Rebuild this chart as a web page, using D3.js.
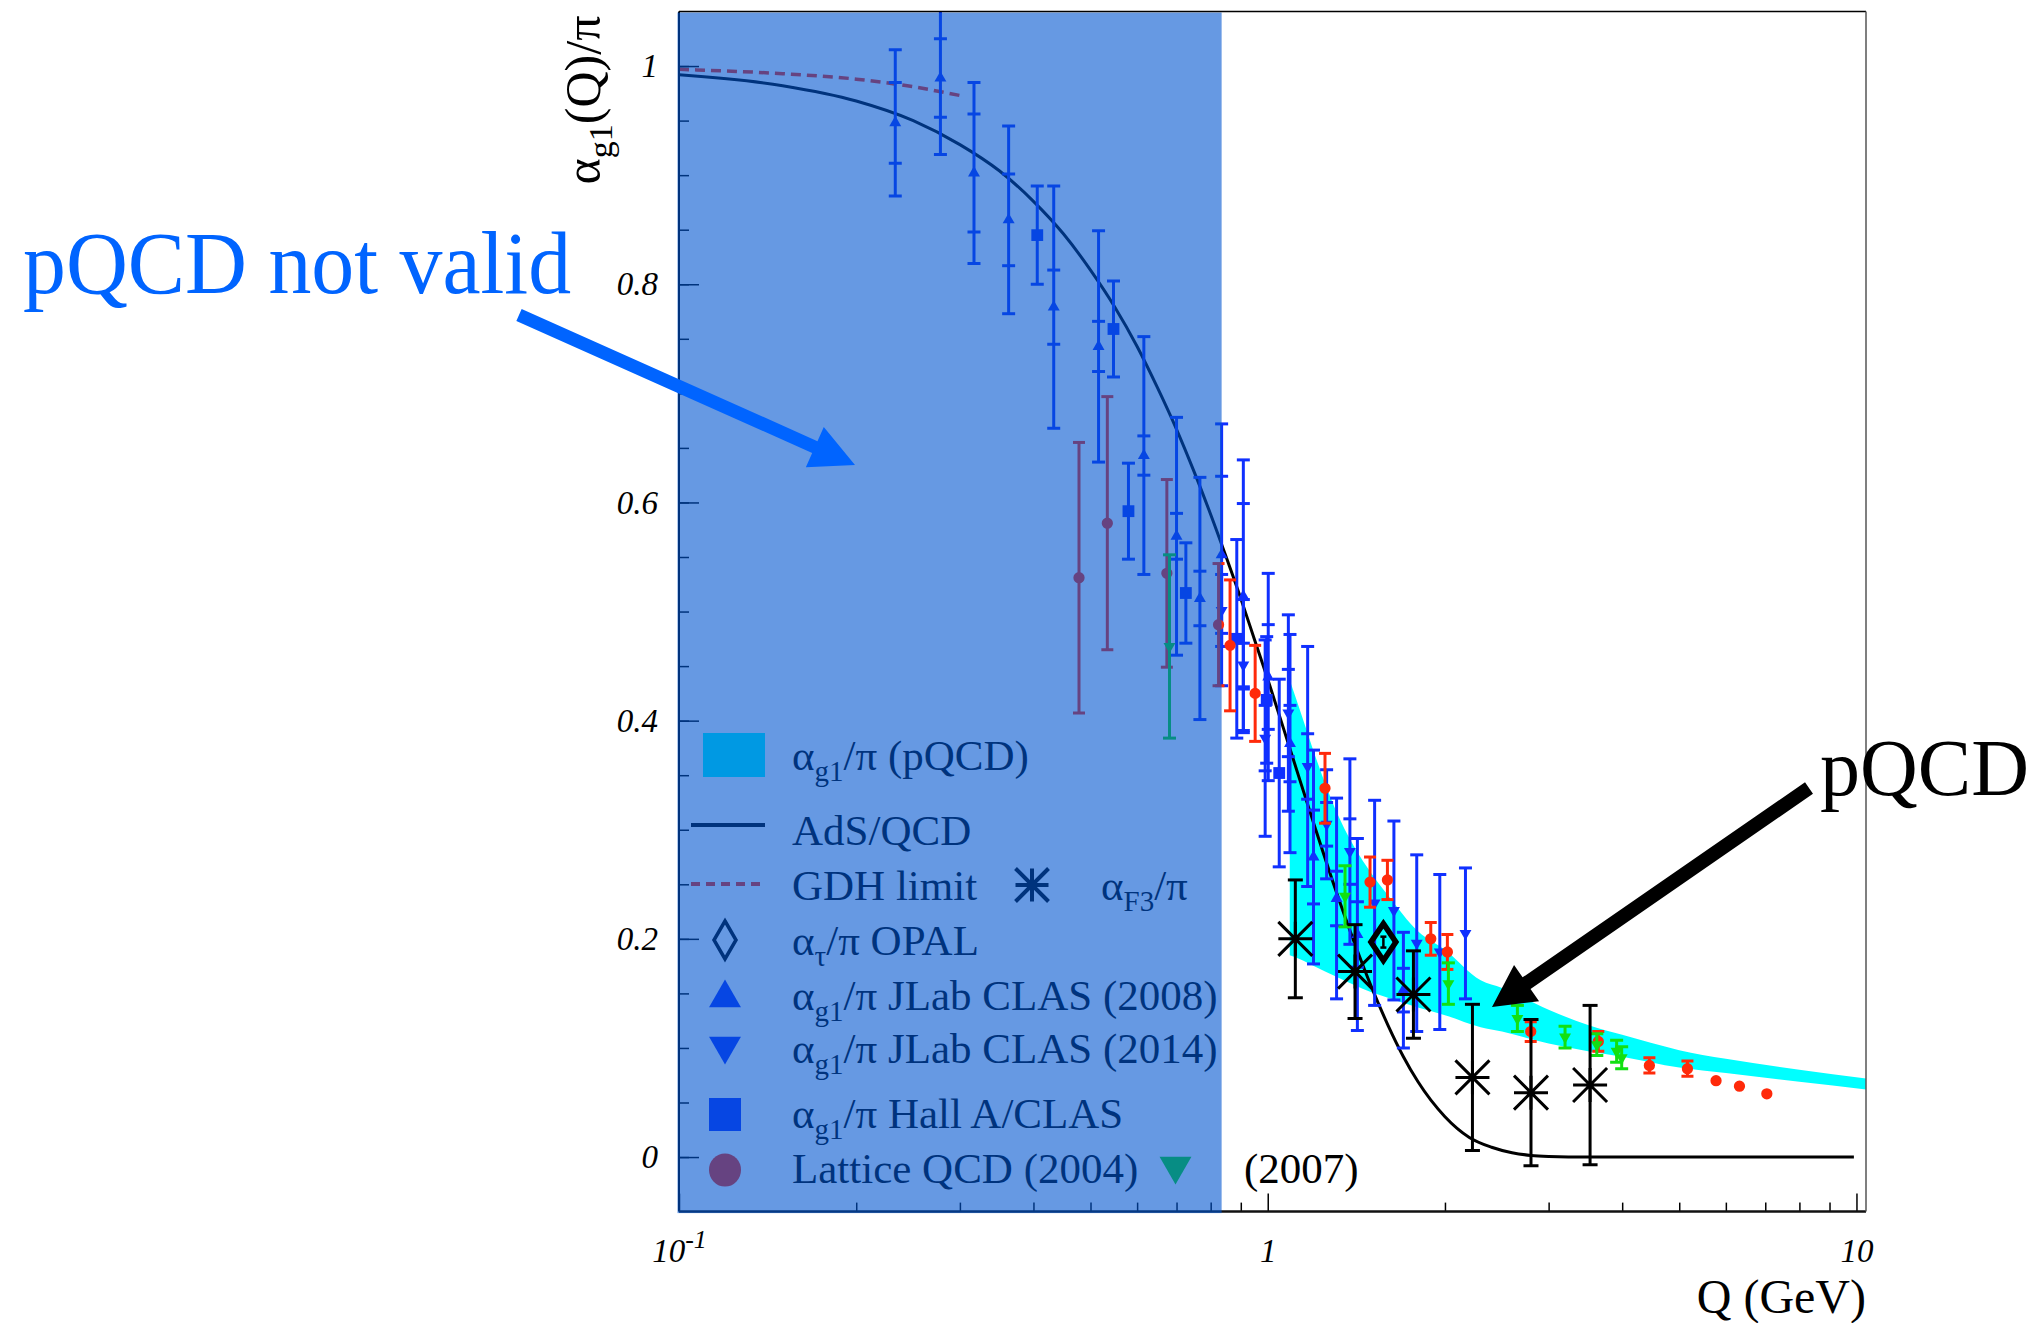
<!DOCTYPE html>
<html>
<head>
<meta charset="utf-8">
<script src="https://cdn.jsdelivr.net/npm/d3@7"></script>
<style>
  html, body { margin: 0; padding: 0; background: #ffffff; }
  svg { display: block; }
  text { font-family: "Liberation Serif", "Times New Roman", serif; }
</style>
</head>
<body>
<svg id="chart" width="2031" height="1323"></svg>
<script>
// ---------------------------------------------------------------
// Effective strong coupling alpha_g1(Q)/pi versus Q (GeV)
// ---------------------------------------------------------------

// JLab CLAS (2008): [Q, value, stat. error, total error]
const clas2008 = [
  [0.233, 0.948, 0.037, 0.067],
  [0.278, 0.989, 0.036, 0.070],
  [0.317, 0.902, 0.054, 0.083],
  [0.363, 0.859, 0.042, 0.086],
  [0.433, 0.779, 0.034, 0.111],
  [0.516, 0.743, 0.023, 0.106],
  [0.616, 0.643, 0.018, 0.109],
  [0.700, 0.569, 0.021, 0.109],
  [0.767, 0.512, 0.025, 0.111],
  [0.835, 0.552, 0.072, 0.120],
  [0.909, 0.514, 0.085, 0.125],
  [1.002, 0.440, 0.048, 0.095],
  [1.091, 0.379, 0.035, 0.100],
  [1.196, 0.275, 0.043, 0.098],
  [1.309, 0.237, 0.025, 0.092],
  [1.420, 0.204, 0.030, 0.088],
  [1.700, 0.153, 0.020, 0.053]
];

// JLab CLAS (2014): [Q, value, stat. error, total error]
const clas2014 = [
  [0.835, 0.501, 0.000, 0.033],
  [0.909, 0.451, 0.020, 0.060],
  [0.990, 0.384, 0.030, 0.090],
  [1.084, 0.407, 0.040, 0.090],
  [1.169, 0.358, 0.030, 0.110],
  [1.259, 0.305, 0.020, 0.050],
  [1.379, 0.280, 0.030, 0.085],
  [1.519, 0.233, 0.000, 0.094],
  [1.638, 0.226, 0.000, 0.082],
  [1.791, 0.196, 0.000, 0.081],
  [1.960, 0.188, 0.000, 0.071],
  [2.167, 0.205, 0.000, 0.060]
];

// Hall A / CLAS: [Q, value, error]
const hallA = [
  [0.406, 0.845, 0.045],
  [0.547, 0.759, 0.044],
  [0.580, 0.592, 0.044],
  [0.726, 0.517, 0.046],
  [0.886, 0.475, 0.091],
  [0.996, 0.419, 0.058],
  [1.046, 0.352, 0.086]
];

// Lattice QCD (2004): [Q, value, error]
const lattice2004 = [
  [0.478, 0.531, 0.124],
  [0.534, 0.581, 0.116],
  [0.674, 0.535, 0.086],
  [0.825, 0.488, 0.056],
  [0.863, 0.469, 0.060],
  [0.952, 0.425, 0.044],
  [1.251, 0.338, 0.032],
  [1.492, 0.252, 0.023],
  [1.597, 0.254, 0.018],
  [1.892, 0.200, 0.015],
  [2.019, 0.188, 0.016],
  [2.797, 0.115, 0.009],
  [3.643, 0.106, 0.009],
  [4.449, 0.084, 0.007],
  [5.163, 0.081, 0.007],
  [5.774, 0.070, 0.000],
  [6.328, 0.065, 0.000],
  [7.043, 0.058, 0.000]
];

// Lattice QCD (2007): [Q, value, error]
const lattice2007 = [
  [0.681, 0.468, 0.084],
  [1.353, 0.239, 0.028],
  [2.027, 0.159, 0.019],
  [2.655, 0.127, 0.012],
  [3.199, 0.110, 0.010],
  [3.622, 0.103, 0.010],
  [3.914, 0.097, 0.010],
  [3.992, 0.091, 0.010]
];

// alpha_F3/pi: [Q, value, error]
const alphaF3 = [
  [1.114, 0.200, 0.054],
  [1.407, 0.170, 0.043],
  [1.768, 0.149, 0.040],
  [2.227, 0.073, 0.067],
  [2.800, 0.059, 0.067],
  [3.528, 0.066, 0.073]
];

// alpha_tau/pi OPAL: [Q, value, error]
const opal = [[1.572, 0.197, 0.005]];

// pQCD band: upper and lower edges
const pqcdQ  = [1.09, 1.15, 1.2, 1.3, 1.4, 1.5, 1.6, 1.8, 2.0, 2.3, 2.5, 3.0, 3.5, 4.0, 5.0, 6.0, 8.0, 10.38];
const pqcdHi = [0.437, 0.400, 0.370, 0.320, 0.285, 0.260, 0.240, 0.207, 0.190, 0.162, 0.155, 0.135, 0.121, 0.112, 0.098, 0.090, 0.080, 0.072];
const pqcdLo = [0.185, 0.180, 0.175, 0.166, 0.158, 0.151, 0.146, 0.137, 0.130, 0.119, 0.115, 0.104, 0.097, 0.092, 0.082, 0.077, 0.069, 0.062];

// AdS/QCD prediction
const adsQ = [0.1, 0.15, 0.2, 0.25, 0.3, 0.35, 0.4, 0.45, 0.5, 0.55, 0.6, 0.65, 0.7, 0.75, 0.8, 0.85,
              0.9, 0.95, 1.0, 1.1, 1.2, 1.3, 1.4, 1.5, 1.6, 1.7, 1.8, 2.0, 2.2, 2.4, 2.6, 2.8, 3.0, 3.5, 4.0, 6.0, 9.9];
const adsV = [0.992, 0.982, 0.968, 0.950, 0.928, 0.904, 0.876, 0.846, 0.813, 0.779, 0.743, 0.705, 0.667, 0.628, 0.589, 0.550,
              0.512, 0.474, 0.438, 0.368, 0.304, 0.247, 0.198, 0.156, 0.121, 0.092, 0.069, 0.037, 0.018, 0.009, 0.004, 0.0015, 0.0006, 0, 0, 0, 0];

// GDH limit
const gdhQ = [0.1, 0.15, 0.2, 0.25, 0.3];
const gdhV = [0.997, 0.993, 0.988, 0.981, 0.973];

// Axis ticks
const yTickValues = [0, 0.2, 0.4, 0.6, 0.8, 1];
const yTickLabels = ['0', '0.2', '0.4', '0.6', '0.8', '1'];
const xTickValues = [0.1, 1, 10];
const xTickLabels = [['10', '-1'], ['1'], ['10']];

// Upper edge of the region where pQCD is not valid
const pqcdLimitQ = 0.835;

// ---------------------------------------------------------------
const COLORS = {
  blue: '#1030ff', red: '#ff2a0a', green: '#12e012', cyan: '#00ffff',
  shade: 'rgb(0,85,208)', arrowBlue: '#0064ff'
};
const frame = { left: 679, right: 1866, top: 11.5, bottom: 1211.6 };

const x = d3.scaleLog().domain([0.1, 10.38]).range([frame.left, frame.right]);
const y = d3.scaleLinear().domain([-0.05, 1.05]).range([frame.bottom, frame.top]);

const svg = d3.select('#chart');
svg.append('rect').attr('width', 2031).attr('height', 1323).attr('fill', '#fff');

svg.append('defs').append('clipPath').attr('id', 'frame-clip')
  .append('rect')
  .attr('x', frame.left).attr('y', frame.top)
  .attr('width', frame.right - frame.left).attr('height', frame.bottom - frame.top);

// custom symbol shapes
const asterisk = {
  draw(ctx, size) {
    const r = Math.sqrt(size) / 2;
    ctx.moveTo(-r, 0); ctx.lineTo(r, 0);
    ctx.moveTo(0, -r); ctx.lineTo(0, r);
    ctx.moveTo(-r, -r); ctx.lineTo(r, r);
    ctx.moveTo(-r, r); ctx.lineTo(r, -r);
  }
};
function diamondShape(w, h) {
  return { draw(ctx) { ctx.moveTo(0, -h); ctx.lineTo(w, 0); ctx.lineTo(0, h); ctx.lineTo(-w, 0); ctx.closePath(); } };
}

const body = svg.append('g');                       // everything below the shaded region
const plotG = body.append('g').attr('clip-path', 'url(#frame-clip)');

// pQCD band
const bandRows = pqcdQ.map((q, i) => ({ q, hi: pqcdHi[i], lo: pqcdLo[i] }));
plotG.append('path').datum(bandRows)
  .attr('d', d3.area().x(d => x(d.q)).y0(d => y(d.lo)).y1(d => y(d.hi)).curve(d3.curveMonotoneX))
  .attr('fill', COLORS.cyan);

// AdS/QCD
plotG.append('path').datum(adsQ.map((q, i) => [q, adsV[i]]))
  .attr('d', d3.line().x(d => x(d[0])).y(d => y(d[1])).curve(d3.curveMonotoneX))
  .attr('fill', 'none').attr('stroke', '#000').attr('stroke-width', 3);

// GDH limit
plotG.append('path').datum(gdhQ.map((q, i) => [q, gdhV[i]]))
  .attr('d', d3.line().x(d => x(d[0])).y(d => y(d[1])).curve(d3.curveMonotoneX))
  .attr('fill', 'none').attr('stroke', COLORS.red).attr('stroke-width', 3.5)
  .attr('stroke-dasharray', '10,6');

// error bars: tot = total error, stat = inner caps (0 = none)
function errorBars(g, rows, color, cap, sw, twoLevel) {
  const layer = g.append('g').attr('stroke', color).attr('stroke-width', sw).attr('fill', 'none');
  rows.forEach(r => {
    const q = r[0], v = r[1];
    const tot = twoLevel ? r[3] : r[2];
    const stat = twoLevel ? r[2] : 0;
    if (!(tot > 0)) return;
    const cx = x(q);
    layer.append('line').attr('x1', cx).attr('x2', cx).attr('y1', y(v - tot)).attr('y2', y(v + tot));
    const caps = [v - tot, v + tot];
    if (stat > 0) caps.push(v - stat, v + stat);
    caps.forEach(c => layer.append('line')
      .attr('x1', cx - cap / 2).attr('x2', cx + cap / 2).attr('y1', y(c)).attr('y2', y(c)));
  });
}
function markers(g, rows, type, size, color, flip) {
  g.append('g').selectAll('path').data(rows).join('path')
    .attr('d', d3.symbol().type(type).size(size))
    .attr('transform', d => `translate(${x(d[0])},${y(d[1])})` + (flip ? ' rotate(180)' : ''))
    .attr('fill', color);
}

errorBars(plotG, clas2008, COLORS.blue, 13, 3, true);
errorBars(plotG, clas2014, COLORS.blue, 13, 3, true);
errorBars(plotG, hallA, COLORS.blue, 13, 3, false);
markers(plotG, clas2008, d3.symbolTriangle, 62, COLORS.blue, false);
markers(plotG, clas2014, d3.symbolTriangle, 62, COLORS.blue, true);
markers(plotG, hallA, d3.symbolSquare, 140, COLORS.blue, false);

errorBars(plotG, lattice2004, COLORS.red, 12, 3, false);
markers(plotG, lattice2004, d3.symbolCircle, 100, COLORS.red, false);

errorBars(plotG, lattice2007, COLORS.green, 13, 3, false);
markers(plotG, lattice2007, d3.symbolTriangle, 62, COLORS.green, true);

errorBars(plotG, alphaF3, '#000', 15, 3, false);
plotG.append('g').selectAll('path').data(alphaF3).join('path')
  .attr('d', d3.symbol().type(asterisk).size(34 * 34))
  .attr('transform', d => `translate(${x(d[0])},${y(d[1])})`)
  .attr('fill', 'none').attr('stroke', '#000').attr('stroke-width', 3);

errorBars(plotG, opal, '#000', 6, 2.5, false);
plotG.append('g').selectAll('path').data(opal).join('path')
  .attr('d', d3.symbol().type(diamondShape(12.5, 18.5)))
  .attr('transform', d => `translate(${x(d[0])},${y(d[1])})`)
  .attr('fill', 'none').attr('stroke', '#000').attr('stroke-width', 5.5).attr('stroke-linejoin', 'miter');

// axes: ticks point into the frame
const yMinor = d3.range(-0.05, 1.0501, 0.05).map(v => +v.toFixed(2)).filter(v => v > -0.05 && v < 1.05);
body.append('g').attr('transform', `translate(${frame.left},0)`)
  .call(d3.axisLeft(y).tickValues(yMinor).tickSize(-10).tickFormat(''))
  .call(g => g.select('.domain').remove())
  .call(g => g.selectAll('line').attr('stroke', '#000').attr('stroke-width', 1.5));
body.append('g').attr('transform', `translate(${frame.left},0)`)
  .call(d3.axisLeft(y).tickValues(yTickValues).tickSize(-20).tickPadding(21)
    .tickFormat((d, i) => yTickLabels[i]))
  .call(g => g.select('.domain').remove())
  .call(g => g.selectAll('line').attr('stroke', '#000').attr('stroke-width', 1.5))
  .call(g => g.selectAll('text').attr('font-size', 33).attr('font-style', 'italic')
    .attr('font-family', '"Liberation Serif", serif').attr('fill', '#000'));

const xMinor = [0.2, 0.3, 0.4, 0.5, 0.6, 0.7, 0.8, 0.9, 2, 3, 4, 5, 6, 7, 8, 9];
body.append('g').attr('transform', `translate(0,${frame.bottom})`)
  .call(d3.axisBottom(x).tickValues(xMinor).tickSize(-9).tickFormat(''))
  .call(g => g.select('.domain').remove())
  .call(g => g.selectAll('line').attr('stroke', '#000').attr('stroke-width', 1.5));
const xAxisMajor = body.append('g').attr('transform', `translate(0,${frame.bottom})`)
  .call(d3.axisBottom(x).tickValues(xTickValues).tickSize(-18).tickPadding(27).tickFormat(''))
  .call(g => g.select('.domain').remove())
  .call(g => g.selectAll('line').attr('stroke', '#000').attr('stroke-width', 1.5));
xAxisMajor.selectAll('.tick text').each(function (d, i) {
  const t = d3.select(this)
    .attr('font-size', 33).attr('font-style', 'italic')
    .attr('font-family', '"Liberation Serif", serif').attr('fill', '#000');
  const parts = xTickLabels[i];
  t.append('tspan').text(parts[0]);
  if (parts[1]) t.append('tspan').attr('font-size', 26).attr('dy', -14).text(parts[1]);
});

// frame: left and bottom axis lines
body.append('line').attr('x1', frame.left).attr('x2', frame.left).attr('y1', frame.top).attr('y2', frame.bottom)
  .attr('stroke', '#000').attr('stroke-width', 2);
body.append('line').attr('x1', frame.left).attr('x2', frame.right).attr('y1', frame.bottom).attr('y2', frame.bottom)
  .attr('stroke', '#111').attr('stroke-width', 2.5);

// legend
const legend = body.append('g').attr('font-size', 43).attr('fill', '#000');
const legX = 725, textX = 792;
function legText(xPos, cy, parts) {
  const t = legend.append('text').attr('x', xPos).attr('y', cy + 13);
  parts.forEach(p => {
    if (p.sub) t.append('tspan').attr('font-size', 29).attr('dy', 11).text(p.sub);
    else t.append('tspan').attr('dy', p.after ? -11 : 0).text(p.t);
  });
  return t;
}
legend.append('rect').attr('x', 703).attr('y', 733).attr('width', 62).attr('height', 44).attr('fill', COLORS.cyan);
legText(textX, 757, [{ t: 'α' }, { sub: 'g1' }, { t: '/π (pQCD)', after: true }]);

legend.append('line').attr('x1', 691).attr('x2', 765).attr('y1', 825).attr('y2', 825)
  .attr('stroke', '#000').attr('stroke-width', 4);
legText(textX, 832, [{ t: 'AdS/QCD' }]);

legend.append('line').attr('x1', 691).attr('x2', 765).attr('y1', 884).attr('y2', 884)
  .attr('stroke', COLORS.red).attr('stroke-width', 4).attr('stroke-dasharray', '9,6');
legText(textX, 887, [{ t: 'GDH limit' }]);
legend.append('path').attr('d', d3.symbol().type(asterisk).size(33 * 33))
  .attr('transform', 'translate(1032,885)').attr('fill', 'none').attr('stroke', '#000').attr('stroke-width', 4);
legText(1101, 887, [{ t: 'α' }, { sub: 'F3' }, { t: '/π', after: true }]);

legend.append('path').attr('d', d3.symbol().type(diamondShape(11, 19)))
  .attr('transform', `translate(${legX},940)`).attr('fill', 'none').attr('stroke', '#000').attr('stroke-width', 3.5);
legText(textX, 942, [{ t: 'α' }, { sub: 'τ' }, { t: '/π OPAL', after: true }]);

legend.append('path').attr('d', d3.symbol().type(d3.symbolTriangle).size(440))
  .attr('transform', `translate(${legX},998)`).attr('fill', COLORS.blue);
legText(textX, 997, [{ t: 'α' }, { sub: 'g1' }, { t: '/π JLab CLAS (2008)', after: true }]);

legend.append('path').attr('d', d3.symbol().type(d3.symbolTriangle).size(440))
  .attr('transform', `translate(${legX},1046) rotate(180)`).attr('fill', COLORS.blue);
legText(textX, 1050, [{ t: 'α' }, { sub: 'g1' }, { t: '/π JLab CLAS (2014)', after: true }]);

legend.append('rect').attr('x', legX - 16).attr('y', 1098).attr('width', 32).attr('height', 33).attr('fill', COLORS.blue);
legText(textX, 1115, [{ t: 'α' }, { sub: 'g1' }, { t: '/π Hall A/CLAS', after: true }]);

legend.append('ellipse').attr('cx', legX).attr('cy', 1170).attr('rx', 16).attr('ry', 16.5).attr('fill', COLORS.red);
legText(textX, 1170, [{ t: 'Lattice QCD (2004)' }]);
legend.append('path').attr('d', d3.symbol().type(d3.symbolTriangle).size(440))
  .attr('transform', 'translate(1175.5,1166) rotate(180)').attr('fill', COLORS.green);
legText(1244, 1170, [{ t: '(2007)' }]);

// shaded region where pQCD is not valid (translucent, over the data)
svg.append('rect')
  .attr('x', frame.left - 1.5).attr('y', frame.top + 1)
  .attr('width', x(pqcdLimitQ) - frame.left + 1.5)
  .attr('height', frame.bottom - frame.top + 0.5)
  .attr('fill', COLORS.shade).attr('fill-opacity', 0.6);

// top and right frame lines
svg.append('line').attr('x1', frame.left).attr('x2', frame.right).attr('y1', frame.top).attr('y2', frame.top)
  .attr('stroke', '#000').attr('stroke-width', 1.5);
svg.append('line').attr('x1', frame.right).attr('x2', frame.right).attr('y1', frame.top).attr('y2', frame.bottom)
  .attr('stroke', '#555').attr('stroke-width', 1.5);

// axis titles
const yTitle = svg.append('text').attr('transform', 'translate(600,100) rotate(-90)')
  .attr('text-anchor', 'middle').attr('font-size', 50).attr('fill', '#000');
yTitle.append('tspan').text('α');
yTitle.append('tspan').attr('font-size', 34).attr('dy', 12).text('g1');
yTitle.append('tspan').attr('dy', -12).text('(Q)/π');

svg.append('text').attr('x', 1866).attr('y', 1313).attr('text-anchor', 'end')
  .attr('font-size', 48).attr('fill', '#000').text('Q (GeV)');

// annotations
function arrow(tail, tip, shaft, headLen, headHalf, color) {
  const dx = tip[0] - tail[0], dy = tip[1] - tail[1];
  const L = Math.hypot(dx, dy), ux = dx / L, uy = dy / L, nx = -uy, ny = ux;
  const bx = tip[0] - ux * headLen, by = tip[1] - uy * headLen;
  const s = shaft / 2;
  const pts = [
    [tail[0] + nx * s, tail[1] + ny * s], [bx + nx * s, by + ny * s], [bx + nx * headHalf, by + ny * headHalf],
    tip, [bx - nx * headHalf, by - ny * headHalf], [bx - nx * s, by - ny * s], [tail[0] - nx * s, tail[1] - ny * s]
  ];
  svg.append('path').attr('d', d3.line()(pts) + 'Z').attr('fill', color);
}

svg.append('text').attr('transform', 'translate(23,293) scale(0.975,1)')
  .attr('font-size', 88).attr('fill', COLORS.arrowBlue)
  .text('pQCD not valid');
arrow([519, 315], [855, 465], 13, 44, 22, COLORS.arrowBlue);

svg.append('text').attr('x', 1820).attr('y', 795).attr('font-size', 80).attr('fill', '#000').text('pQCD');
arrow([1809, 788], [1492, 1007], 14, 42, 22, '#000');
</script>
</body>
</html>
